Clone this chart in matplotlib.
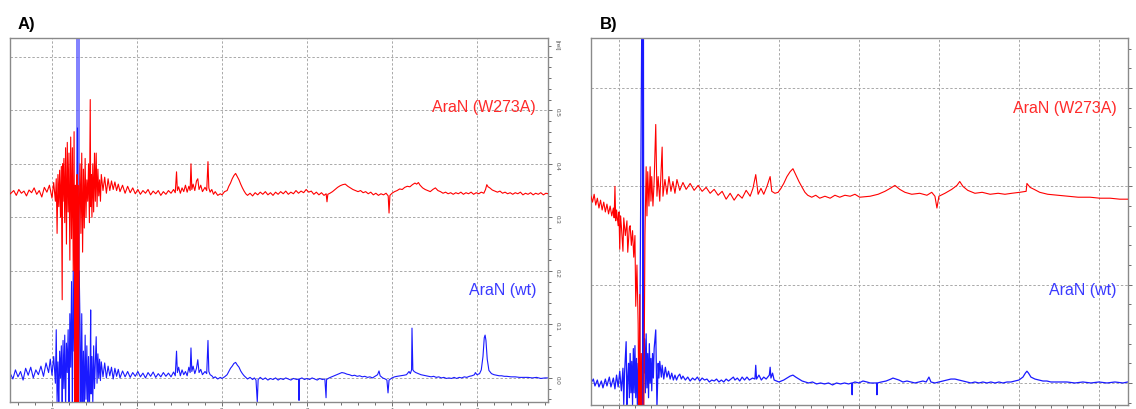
import numpy as np
import matplotlib
matplotlib.use('Agg')
import matplotlib.pyplot as plt
from matplotlib.ticker import MultipleLocator

plt.rcParams['font.family'] = ['Liberation Sans', 'DejaVu Sans']

# ---- data (ppm, relative intensity) ----
# Panel A, AraN (W273A), red trace
red_a = np.array([
    (5.49, 0.344), (5.45, 0.350), (5.42, 0.341), (5.39, 0.352), (5.36, 0.345), (5.33, 0.349),
    (5.30, 0.340), (5.27, 0.351), (5.24, 0.346), (5.21, 0.355), (5.18, 0.343), (5.15, 0.350),
    (5.12, 0.338), (5.09, 0.356), (5.06, 0.347), (5.03, 0.360), (5.00, 0.336), (4.98, 0.365),
    (4.96, 0.330), (4.95, 0.372), (4.94, 0.270), (4.93, 0.380), (4.92, 0.320), (4.91, 0.388),
    (4.90, 0.300), (4.89, 0.395), (4.88, 0.146), (4.875, 0.400), (4.87, 0.330), (4.86, 0.410),
    (4.85, 0.290), (4.84, 0.430), (4.83, 0.250), (4.82, 0.440), (4.81, 0.310), (4.80, 0.420),
    (4.79, 0.220), (4.78, 0.450), (4.77, 0.260), (4.76, 0.430), (4.75, 0.200), (4.74, 0.460),
    (4.73, -0.10), (4.725, 0.360), (4.72, -0.10), (4.715, 0.350), (4.71, -0.10), (4.705, 0.380),
    (4.70, -0.10), (4.695, 0.360), (4.69, -0.10), (4.68, 0.300), (4.67, 0.400), (4.66, 0.270),
    (4.65, 0.420), (4.64, 0.235), (4.63, 0.390), (4.62, 0.280), (4.61, 0.410), (4.60, 0.300),
    (4.59, 0.370), (4.58, 0.330), (4.57, 0.400), (4.56, 0.290), (4.55, 0.520), (4.545, 0.320),
    (4.54, 0.380), (4.53, 0.300), (4.52, 0.400), (4.51, 0.310), (4.50, 0.420), (4.49, 0.330),
    (4.48, 0.420), (4.47, 0.320), (4.46, 0.390), (4.45, 0.340), (4.44, 0.370), (4.43, 0.330),
    (4.42, 0.380), (4.40, 0.350), (4.38, 0.375), (4.36, 0.345), (4.34, 0.372), (4.32, 0.350),
    (4.30, 0.368), (4.28, 0.352), (4.26, 0.366), (4.24, 0.350), (4.22, 0.362), (4.20, 0.348),
    (4.17, 0.360), (4.14, 0.345), (4.11, 0.358), (4.08, 0.346), (4.05, 0.355), (4.02, 0.344),
    (3.99, 0.352), (3.96, 0.343), (3.93, 0.350), (3.90, 0.345), (3.87, 0.352), (3.84, 0.342),
    (3.81, 0.349), (3.78, 0.344), (3.75, 0.350), (3.72, 0.341), (3.69, 0.348), (3.66, 0.343),
    (3.63, 0.350), (3.60, 0.345), (3.57, 0.352), (3.55, 0.346), (3.535, 0.385), (3.525, 0.350),
    (3.51, 0.357), (3.49, 0.345), (3.47, 0.355), (3.45, 0.348), (3.43, 0.360), (3.41, 0.347),
    (3.39, 0.358), (3.375, 0.350), (3.365, 0.400), (3.355, 0.352), (3.34, 0.362), (3.32, 0.350),
    (3.30, 0.368), (3.285, 0.372), (3.27, 0.352), (3.25, 0.360), (3.23, 0.348), (3.20, 0.356),
    (3.18, 0.350), (3.165, 0.404), (3.155, 0.355), (3.14, 0.347), (3.12, 0.352), (3.10, 0.343),
    (3.08, 0.348), (3.05, 0.341), (3.02, 0.344), (3.00, 0.342), (2.97, 0.348), (2.94, 0.350),
    (2.92, 0.358), (2.90, 0.364), (2.88, 0.372), (2.86, 0.378), (2.84, 0.382), (2.82, 0.376),
    (2.80, 0.370), (2.78, 0.362), (2.76, 0.355), (2.74, 0.349), (2.72, 0.344), (2.70, 0.341),
    (2.67, 0.345), (2.64, 0.340), (2.61, 0.346), (2.58, 0.342), (2.55, 0.347), (2.52, 0.343),
    (2.49, 0.348), (2.46, 0.342), (2.43, 0.346), (2.40, 0.341), (2.37, 0.347), (2.34, 0.343),
    (2.31, 0.348), (2.28, 0.344), (2.25, 0.349), (2.22, 0.343), (2.19, 0.347), (2.16, 0.344),
    (2.13, 0.350), (2.10, 0.345), (2.07, 0.349), (2.04, 0.346), (2.01, 0.352), (1.98, 0.347),
    (1.95, 0.349), (1.92, 0.343), (1.89, 0.347), (1.86, 0.342), (1.83, 0.346), (1.80, 0.341),
    (1.775, 0.344), (1.765, 0.329), (1.755, 0.343), (1.73, 0.345), (1.70, 0.348), (1.67, 0.352),
    (1.64, 0.356), (1.61, 0.359), (1.58, 0.361), (1.55, 0.362), (1.52, 0.358), (1.49, 0.355),
    (1.46, 0.352), (1.43, 0.350), (1.40, 0.348), (1.37, 0.350), (1.34, 0.346), (1.31, 0.348),
    (1.28, 0.344), (1.25, 0.347), (1.22, 0.342), (1.19, 0.345), (1.16, 0.341), (1.13, 0.344),
    (1.10, 0.342), (1.07, 0.345), (1.045, 0.340), (1.035, 0.308), (1.025, 0.341), (1.00, 0.345),
    (0.97, 0.348), (0.94, 0.350), (0.91, 0.353), (0.88, 0.352), (0.85, 0.356), (0.82, 0.358),
    (0.79, 0.357), (0.76, 0.361), (0.73, 0.364), (0.71, 0.362), (0.69, 0.365), (0.67, 0.360),
    (0.64, 0.355), (0.61, 0.352), (0.58, 0.350), (0.55, 0.348), (0.52, 0.352), (0.49, 0.355),
    (0.46, 0.350), (0.43, 0.348), (0.40, 0.345), (0.37, 0.347), (0.34, 0.344), (0.31, 0.346),
    (0.28, 0.343), (0.25, 0.346), (0.22, 0.344), (0.19, 0.347), (0.16, 0.343), (0.13, 0.346),
    (0.10, 0.344), (0.07, 0.347), (0.04, 0.343), (0.01, 0.346), (-0.02, 0.344), (-0.05, 0.347),
    (-0.08, 0.345), (-0.10, 0.352), (-0.115, 0.361), (-0.13, 0.357), (-0.15, 0.355), (-0.18, 0.351),
    (-0.21, 0.349), (-0.24, 0.347), (-0.27, 0.349), (-0.30, 0.345), (-0.33, 0.347), (-0.36, 0.344),
    (-0.39, 0.346), (-0.42, 0.343), (-0.45, 0.346), (-0.48, 0.344), (-0.51, 0.347), (-0.54, 0.342),
    (-0.57, 0.345), (-0.60, 0.343), (-0.63, 0.346), (-0.66, 0.342), (-0.69, 0.345), (-0.72, 0.343),
    (-0.75, 0.346), (-0.78, 0.342), (-0.81, 0.345), (-0.835, 0.344),
])

# Panel A, AraN (wt), blue trace
blue_a = np.array([
    (5.49, 0.008), (5.46, -0.002), (5.43, 0.015), (5.40, 0.002), (5.37, 0.012), (5.34, -0.004),
    (5.31, 0.018), (5.28, 0.005), (5.25, 0.020), (5.22, 0.000), (5.19, 0.015), (5.16, 0.006),
    (5.13, 0.022), (5.10, 0.003), (5.07, 0.028), (5.04, 0.010), (5.02, 0.035), (5.00, 0.005),
    (4.98, 0.040), (4.96, -0.010), (4.95, 0.090), (4.94, -0.045), (4.93, 0.030), (4.92, -0.060),
    (4.91, 0.050), (4.90, 0.000), (4.89, 0.060), (4.88, -0.060), (4.87, 0.070), (4.86, -0.020),
    (4.85, 0.080), (4.84, -0.060), (4.83, 0.065), (4.82, 0.010), (4.81, 0.090), (4.80, -0.060),
    (4.79, 0.120), (4.78, 0.020), (4.77, 0.180), (4.76, -0.060), (4.75, 0.200), (4.74, 0.050),
    (4.72, 0.250), (4.71, -0.060), (4.70, 0.467), (4.69, -0.060), (4.68, 0.200), (4.67, 0.100),
    (4.66, -0.060), (4.65, 0.120), (4.64, -0.060), (4.63, 0.050), (4.62, -0.060), (4.61, 0.080),
    (4.60, -0.040), (4.59, 0.060), (4.58, -0.060), (4.57, 0.040), (4.56, -0.060), (4.55, 0.030),
    (4.545, 0.127), (4.54, -0.030), (4.53, 0.040), (4.52, -0.050), (4.51, 0.060), (4.50, -0.020),
    (4.48, 0.077), (4.47, -0.010), (4.46, 0.045), (4.45, 0.000), (4.44, 0.035), (4.43, -0.005),
    (4.42, 0.030), (4.40, 0.002), (4.38, 0.028), (4.36, 0.000), (4.34, 0.022), (4.32, 0.004),
    (4.30, 0.020), (4.28, -0.002), (4.26, 0.018), (4.24, 0.003), (4.22, 0.016), (4.20, 0.000),
    (4.17, 0.013), (4.14, 0.002), (4.11, 0.012), (4.08, 0.001), (4.05, 0.010), (4.02, 0.003),
    (3.99, 0.012), (3.96, 0.002), (3.93, 0.009), (3.90, 0.000), (3.87, 0.010), (3.84, 0.003),
    (3.81, 0.011), (3.78, 0.001), (3.75, 0.008), (3.72, 0.002), (3.69, 0.010), (3.66, 0.003),
    (3.63, 0.009), (3.60, 0.002), (3.57, 0.011), (3.55, 0.004), (3.535, 0.050), (3.525, 0.010),
    (3.51, 0.020), (3.49, 0.004), (3.47, 0.015), (3.45, 0.006), (3.43, 0.012), (3.41, 0.004),
    (3.39, 0.020), (3.375, 0.010), (3.365, 0.056), (3.355, 0.012), (3.34, 0.022), (3.32, 0.008),
    (3.30, 0.018), (3.285, 0.034), (3.27, 0.010), (3.25, 0.016), (3.23, 0.006), (3.20, 0.012),
    (3.18, 0.008), (3.165, 0.070), (3.155, 0.012), (3.14, 0.006), (3.12, 0.004), (3.10, 0.000),
    (3.08, 0.002), (3.05, -0.002), (3.02, 0.001), (3.00, -0.001), (2.97, 0.002), (2.94, 0.006),
    (2.92, 0.012), (2.90, 0.018), (2.88, 0.022), (2.86, 0.027), (2.84, 0.029), (2.82, 0.024),
    (2.80, 0.020), (2.78, 0.013), (2.76, 0.008), (2.74, 0.004), (2.72, 0.001), (2.70, -0.002),
    (2.67, 0.001), (2.64, -0.003), (2.62, 0.000), (2.60, -0.004), (2.585, -0.045), (2.575, -0.003),
    (2.55, 0.001), (2.52, -0.003), (2.49, 0.000), (2.46, -0.004), (2.43, -0.001), (2.40, -0.003),
    (2.37, 0.000), (2.34, -0.004), (2.31, -0.001), (2.28, -0.003), (2.25, 0.000), (2.22, -0.002),
    (2.19, -0.004), (2.16, -0.001), (2.12, -0.003), (2.10, -0.002), (2.094, -0.042), (2.088, -0.002),
    (2.06, 0.000), (2.03, -0.003), (2.00, -0.001), (1.97, -0.003), (1.94, 0.000), (1.91, -0.002),
    (1.88, -0.004), (1.85, -0.001), (1.82, -0.003), (1.79, -0.002), (1.776, -0.037), (1.77, -0.003),
    (1.74, 0.000), (1.71, 0.002), (1.68, 0.004), (1.65, 0.006), (1.62, 0.008), (1.59, 0.010),
    (1.56, 0.009), (1.53, 0.007), (1.50, 0.006), (1.47, 0.004), (1.44, 0.005), (1.41, 0.003),
    (1.38, 0.004), (1.35, 0.002), (1.32, 0.003), (1.29, 0.001), (1.26, 0.002), (1.23, 0.000),
    (1.20, 0.003), (1.17, 0.006), (1.153, 0.013), (1.14, 0.004), (1.11, 0.000), (1.08, -0.002),
    (1.06, -0.004), (1.047, -0.028), (1.035, -0.004), (1.00, 0.000), (0.97, 0.002), (0.94, 0.003),
    (0.90, 0.004), (0.86, 0.005), (0.83, 0.006), (0.80, 0.012), (0.785, 0.008), (0.77, 0.015),
    (0.765, 0.093), (0.755, 0.015), (0.74, 0.012), (0.72, 0.010), (0.69, 0.008), (0.66, 0.006),
    (0.63, 0.005), (0.60, 0.004), (0.57, 0.003), (0.54, 0.002), (0.51, 0.003), (0.48, 0.001),
    (0.45, 0.002), (0.42, 0.000), (0.39, 0.001), (0.36, -0.001), (0.33, 0.000), (0.30, -0.001),
    (0.27, 0.001), (0.24, -0.001), (0.21, 0.001), (0.18, 0.000), (0.15, 0.002), (0.12, 0.001),
    (0.09, 0.003), (0.06, 0.004), (0.03, 0.006), (0.02, 0.010), (0.00, 0.006), (-0.03, 0.008),
    (-0.05, 0.015), (-0.07, 0.040), (-0.085, 0.075), (-0.095, 0.080), (-0.105, 0.070), (-0.12, 0.035),
    (-0.14, 0.014), (-0.17, 0.008), (-0.20, 0.006), (-0.23, 0.005), (-0.26, 0.004), (-0.29, 0.004),
    (-0.32, 0.003), (-0.35, 0.003), (-0.40, 0.002), (-0.45, 0.002), (-0.50, 0.001), (-0.55, 0.001),
    (-0.60, 0.001), (-0.65, 0.000), (-0.70, 0.001), (-0.75, -0.001), (-0.80, 0.000), (-0.835, 0.000),
])

# off-scale water signal in panel A (ppm range)
water_a = (4.72, 4.675)

# Panel B, AraN (W273A), red trace
red_b = np.array([
    (5.35, 0.190), (5.33, 0.184), (5.31, 0.192), (5.29, 0.181), (5.27, 0.188), (5.25, 0.178),
    (5.23, 0.186), (5.21, 0.176), (5.19, 0.184), (5.17, 0.174), (5.15, 0.182), (5.13, 0.172),
    (5.11, 0.180), (5.09, 0.170), (5.07, 0.178), (5.06, 0.168), (5.05, 0.200), (5.04, 0.165),
    (5.03, 0.176), (5.01, 0.160), (5.00, 0.174), (4.99, 0.136), (4.98, 0.170), (4.97, 0.160),
    (4.95, 0.134), (4.94, 0.168), (4.92, 0.150), (4.90, 0.165), (4.89, 0.133), (4.87, 0.158),
    (4.86, 0.160), (4.845, 0.140), (4.83, 0.155), (4.815, 0.128), (4.80, 0.150), (4.79, 0.078),
    (4.775, 0.120), (4.76, 0.060), (4.75, -0.05), (4.74, 0.090), (4.73, -0.05), (4.72, 0.030),
    (4.71, -0.05), (4.69, -0.05), (4.675, 0.150), (4.66, 0.220), (4.65, 0.170), (4.64, 0.215),
    (4.625, 0.180), (4.61, 0.220), (4.60, 0.185), (4.59, 0.210), (4.575, 0.180), (4.56, 0.205),
    (4.54, 0.263), (4.525, 0.190), (4.51, 0.210), (4.49, 0.185), (4.46, 0.240), (4.45, 0.190),
    (4.425, 0.207), (4.40, 0.192), (4.375, 0.210), (4.35, 0.195), (4.325, 0.205), (4.30, 0.193),
    (4.275, 0.207), (4.24, 0.196), (4.20, 0.204), (4.16, 0.197), (4.11, 0.203), (4.06, 0.196),
    (4.01, 0.201), (3.96, 0.195), (3.91, 0.199), (3.86, 0.193), (3.81, 0.197), (3.76, 0.191),
    (3.71, 0.195), (3.66, 0.187), (3.61, 0.193), (3.56, 0.186), (3.51, 0.192), (3.46, 0.188),
    (3.41, 0.196), (3.36, 0.190), (3.325, 0.198), (3.29, 0.212), (3.26, 0.192), (3.225, 0.198),
    (3.19, 0.192), (3.15, 0.200), (3.11, 0.210), (3.09, 0.195), (3.05, 0.193), (3.01, 0.194),
    (2.975, 0.198), (2.94, 0.203), (2.90, 0.210), (2.86, 0.215), (2.825, 0.218), (2.79, 0.212),
    (2.75, 0.205), (2.71, 0.199), (2.675, 0.194), (2.64, 0.191), (2.59, 0.189), (2.54, 0.191),
    (2.49, 0.188), (2.425, 0.190), (2.36, 0.188), (2.30, 0.191), (2.24, 0.189), (2.175, 0.191),
    (2.11, 0.190), (2.05, 0.192), (1.99, 0.189), (1.86, 0.190), (1.76, 0.192), (1.675, 0.195),
    (1.61, 0.198), (1.55, 0.201), (1.49, 0.197), (1.425, 0.194), (1.34, 0.192), (1.24, 0.193),
    (1.15, 0.191), (1.09, 0.194), (1.05, 0.190), (1.025, 0.178), (1.00, 0.190), (0.925, 0.193),
    (0.84, 0.197), (0.775, 0.201), (0.74, 0.205), (0.70, 0.200), (0.64, 0.196), (0.55, 0.193),
    (0.46, 0.194), (0.36, 0.192), (0.26, 0.193), (0.175, 0.192), (0.09, 0.193), (-0.01, 0.194),
    (-0.09, 0.195), (-0.10, 0.203), (-0.14, 0.199), (-0.19, 0.197), (-0.26, 0.194), (-0.36, 0.192),
    (-0.49, 0.191), (-0.61, 0.190), (-0.74, 0.189), (-0.89, 0.189), (-1.01, 0.188), (-1.14, 0.188),
    (-1.26, 0.187), (-1.36, 0.187),
])

# Panel B, AraN (wt), blue trace
blue_b = np.array([
    (5.35, 0.000), (5.32, 0.004), (5.30, -0.003), (5.27, 0.003), (5.25, -0.004), (5.22, 0.002),
    (5.20, -0.005), (5.17, 0.004), (5.15, -0.003), (5.12, 0.006), (5.10, -0.004), (5.07, 0.005),
    (5.05, -0.006), (5.03, 0.008), (5.01, -0.004), (4.99, 0.012), (4.97, -0.008), (4.95, 0.015),
    (4.94, -0.022), (4.93, 0.010), (4.91, 0.042), (4.90, -0.022), (4.89, 0.005), (4.88, 0.020),
    (4.87, -0.015), (4.86, 0.030), (4.85, -0.010), (4.84, 0.022), (4.83, -0.022), (4.82, 0.035),
    (4.81, -0.010), (4.80, 0.038), (4.79, -0.015), (4.78, 0.025), (4.77, -0.022), (4.76, 0.020),
    (4.75, -0.005), (4.74, 0.030), (4.705, 0.500), (4.70, -0.050), (4.695, 0.500), (4.69, 0.010),
    (4.68, 0.045), (4.67, -0.010), (4.66, 0.050), (4.65, -0.005), (4.64, 0.030), (4.63, -0.015),
    (4.62, 0.040), (4.61, 0.000), (4.60, 0.025), (4.59, -0.008), (4.58, 0.030), (4.57, 0.005),
    (4.56, 0.035), (4.54, 0.054), (4.525, -0.025), (4.51, 0.020), (4.50, 0.005), (4.49, 0.022),
    (4.47, 0.006), (4.46, 0.018), (4.44, 0.004), (4.42, 0.016), (4.40, 0.006), (4.38, 0.012),
    (4.36, 0.004), (4.34, 0.010), (4.32, 0.003), (4.30, 0.008), (4.28, 0.003), (4.26, 0.007),
    (4.24, 0.009), (4.22, 0.004), (4.20, 0.007), (4.17, 0.003), (4.14, 0.006), (4.11, 0.002),
    (4.08, 0.005), (4.05, 0.003), (4.02, 0.006), (3.99, 0.002), (3.96, 0.005), (3.93, 0.003),
    (3.90, 0.004), (3.87, 0.001), (3.84, 0.003), (3.81, 0.002), (3.78, 0.004), (3.75, 0.001),
    (3.72, 0.003), (3.69, 0.001), (3.66, 0.004), (3.63, 0.002), (3.60, 0.004), (3.57, 0.006),
    (3.55, 0.003), (3.52, 0.005), (3.49, 0.002), (3.46, 0.006), (3.43, 0.003), (3.40, 0.006),
    (3.37, 0.003), (3.33, 0.005), (3.30, 0.004), (3.29, 0.018), (3.28, 0.004), (3.25, 0.008),
    (3.22, 0.003), (3.19, 0.006), (3.16, 0.004), (3.12, 0.008), (3.11, 0.016), (3.10, 0.005),
    (3.08, 0.010), (3.06, 0.003), (3.03, 0.002), (3.00, 0.001), (2.97, 0.002), (2.94, 0.003),
    (2.90, 0.005), (2.86, 0.007), (2.825, 0.008), (2.79, 0.006), (2.75, 0.004), (2.71, 0.002),
    (2.67, 0.001), (2.63, 0.000), (2.58, 0.001), (2.53, -0.001), (2.48, 0.000), (2.43, -0.001),
    (2.38, 0.000), (2.33, -0.002), (2.28, 0.000), (2.23, -0.001), (2.18, 0.000), (2.13, -0.001),
    (2.09, 0.000), (2.085, -0.012), (2.08, 0.000), (2.05, 0.001), (2.00, 0.000), (1.95, 0.002),
    (1.90, 0.001), (1.86, 0.000), (1.78, 0.000), (1.775, -0.012), (1.77, 0.000), (1.72, 0.001),
    (1.66, 0.002), (1.60, 0.004), (1.575, 0.005), (1.50, 0.003), (1.45, 0.001), (1.40, 0.002),
    (1.35, 0.001), (1.30, 0.000), (1.25, 0.001), (1.20, 0.002), (1.16, 0.001), (1.125, 0.006),
    (1.10, 0.001), (1.05, 0.000), (1.00, 0.001), (0.95, 0.002), (0.90, 0.003), (0.85, 0.004),
    (0.80, 0.004), (0.75, 0.003), (0.70, 0.002), (0.65, 0.001), (0.60, 0.000), (0.55, 0.001),
    (0.50, 0.000), (0.45, 0.001), (0.40, 0.000), (0.35, 0.001), (0.30, 0.000), (0.25, 0.001),
    (0.20, 0.000), (0.15, 0.001), (0.10, 0.001), (0.05, 0.002), (0.00, 0.003), (-0.05, 0.006),
    (-0.08, 0.010), (-0.10, 0.012), (-0.12, 0.010), (-0.15, 0.006), (-0.20, 0.004), (-0.25, 0.003),
    (-0.30, 0.002), (-0.35, 0.002), (-0.40, 0.001), (-0.50, 0.001), (-0.60, 0.001), (-0.70, 0.000),
    (-0.80, 0.001), (-0.90, 0.000), (-1.00, 0.001), (-1.10, 0.000), (-1.20, 0.001), (-1.30, 0.000),
    (-1.36, 0.001),
])

panel_letters = ['A)', 'B)']
label_mut = 'AraN (W273A)'
label_wt = 'AraN (wt)'

RED = '#ff0000'
BLUE = '#1a1aff'
GRID = '#a9a9a9'
SPINE = '#8a8a8a'

fig = plt.figure(figsize=(11.36, 4.09), dpi=100)
ax_a = fig.add_axes([0.0088, 0.0171, 0.4736, 0.8900])
ax_b = fig.add_axes([0.5202, 0.0098, 0.4727, 0.8973])


def style_axes(ax, xlim, ylim):
    ax.set_xlim(*xlim)
    ax.set_ylim(*ylim)
    ax.xaxis.set_major_locator(MultipleLocator(1))
    ax.xaxis.set_minor_locator(MultipleLocator(0.2))
    ax.yaxis.set_major_locator(MultipleLocator(0.1))
    ax.yaxis.set_minor_locator(MultipleLocator(0.02))
    ax.yaxis.tick_right()
    ax.grid(True, which='major', color=GRID, linestyle=(0, (2.5, 2)), linewidth=0.7)
    ax.set_axisbelow(True)
    for sp in ax.spines.values():
        sp.set_color(SPINE)
        sp.set_linewidth(1.0)
    ax.tick_params(axis='both', which='both', direction='out', colors='#555555',
                   labelsize=4.5, width=0.6)
    ax.tick_params(axis='both', which='major', length=3)
    ax.tick_params(axis='both', which='minor', length=2)
    ax.tick_params(axis='y', labelrotation=-90, pad=1.5)
    ax.tick_params(axis='x', pad=1.5)
    ax.yaxis.set_major_formatter(lambda v, pos: f'{v:.1f}' if v < 0.55 else '')
    ax.set_xlabel('[ppm]', loc='right', fontsize=4.5, labelpad=0, color='#555555')
    ax.text(1.012, 0.995, '[rel]', transform=ax.transAxes, rotation=-90,
            fontsize=4.5, va='top', ha='left', color='#555555')


# ---- panel A ----
style_axes(ax_a, (5.494, -0.835), (-0.045, 0.635))
ax_a.axvspan(water_a[0], water_a[1], color='#5a5aff', alpha=0.75, lw=0, zorder=1.5)
ax_a.plot(blue_a[:, 0], blue_a[:, 1], color=BLUE, lw=0.8, zorder=2)
ax_a.plot(red_a[:, 0], red_a[:, 1], color=RED, lw=0.8, zorder=3)
ax_a.text(0.9777, 0.8077, label_mut, transform=ax_a.transAxes, color='#ff2a2a',
          fontsize=11.5, ha='right', va='center')
ax_a.text(0.9777, 0.3077, label_wt, transform=ax_a.transAxes, color='#3a3aff',
          fontsize=11.5, ha='right', va='center')

# ---- panel B ----
style_axes(ax_b, (5.35, -1.3625), (-0.0224, 0.351))
ax_b.plot(red_b[:, 0], red_b[:, 1], color=RED, lw=0.8, zorder=3)
ax_b.plot(blue_b[:, 0], blue_b[:, 1], color=BLUE, lw=0.9, zorder=2)
ax_b.text(0.9795, 0.809, label_mut, transform=ax_b.transAxes, color='#ff2a2a',
          fontsize=11.5, ha='right', va='center')
ax_b.text(0.9795, 0.313, label_wt, transform=ax_b.transAxes, color='#3a3aff',
          fontsize=11.5, ha='right', va='center')

fig.text(18 / 1136, 1 - 29.5 / 409, panel_letters[0], fontsize=12, fontweight='bold',
         ha='left', va='baseline')
fig.text(600 / 1136, 1 - 29.5 / 409, panel_letters[1], fontsize=12, fontweight='bold',
         ha='left', va='baseline')

fig.savefig('out.png', dpi=100)
